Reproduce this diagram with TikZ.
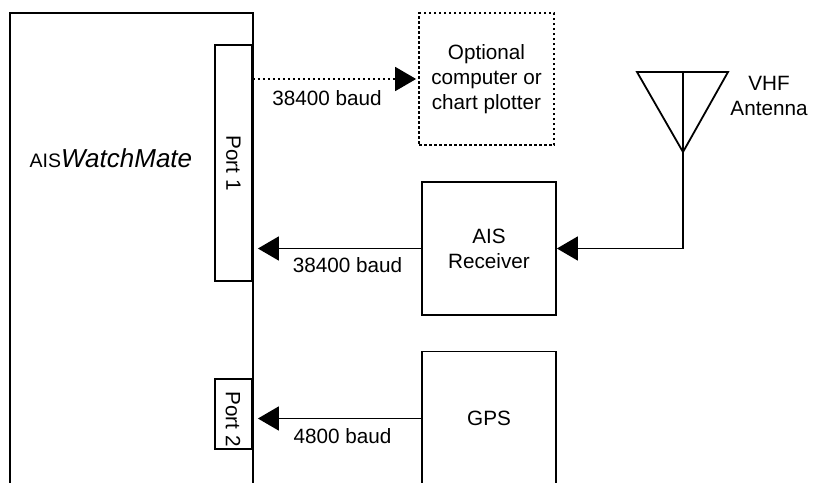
\documentclass[tikz,border=0pt]{standalone}
\usepackage{fontspec}
\setmainfont{Liberation Sans}
\usetikzlibrary{arrows.meta}
\tikzset{
  ln/.style={line width=1.8pt},
  box/.style={draw, ln, fill=white, inner sep=0pt, align=center},
  txt/.style={font=\fontsize{20.7}{25}\selectfont, inner sep=0pt},
  arr/.style={ln, -{Triangle[length=21pt,width=24pt]}},
  dotarr/.style={arr, dash pattern=on 2.5pt off 2.5pt},
}
\begin{document}
\begin{tikzpicture}[x=1pt,y=-1pt]
\useasboundingbox (0,0) rectangle (813,482);
\clip (0,0) rectangle (813,482);
% main unit
\node[draw, ln, inner sep=0pt, minimum width=243pt, minimum height=520pt, anchor=north west] (wm) at (9,12) {};
\node[inner sep=0pt, anchor=base west] (wmt) at (29.5,167) {{\fontsize{19.5}{22}\selectfont AIS}{\fontsize{26}{30}\selectfont\itshape WatchMate}};
% ports
\node[box, txt, rotate=-90, minimum width=236pt, minimum height=37pt] (port1) at (233.5,163) {Port 1};
\node[box, minimum width=37pt, minimum height=70pt] (port2) at (233.5,414) {};
\node[txt, rotate=-90] (port2t) at (233,419) {Port 2};
% devices
\node[box, txt, dash pattern=on 2.5pt off 2.5pt, minimum width=135pt, minimum height=132pt] (opt) at (486.5,79) {Optional\\computer or\\chart plotter};
\node[box, txt, minimum width=134pt, minimum height=133pt] (recv) at (489,248.5) {AIS\\Receiver};
\node[box, txt, minimum width=134pt, minimum height=134pt] (gps) at (489,418.5) {GPS};
% antenna
\coordinate (ant) at (683,72);
\draw[ln, line join=miter] (637,72) -- (728,72) -- (683,152) -- cycle;
\draw[ln] (ant) -- (683,152);
\node[txt, align=center] (antt) at (769,96) {VHF\\Antenna};
% connectors
\draw[dotarr, shorten >=2pt] (port1.north |- opt.west) -- (opt.west);
\draw[arr] (ant) |- (recv.east);
\draw[arr, shorten >=5pt] (recv.west) -- (recv.west -| port1.north);
\draw[arr, shorten >=5pt] (gps.west) -- (gps.west -| port2.east);
% labels
\node[txt, anchor=base] (l1) at (327,105) {38400 baud};
\node[txt, anchor=base] (l2) at (347.5,272.5) {38400 baud};
\node[txt, anchor=base] (l3) at (342.5,443) {4800 baud};
\end{tikzpicture}
\end{document}
